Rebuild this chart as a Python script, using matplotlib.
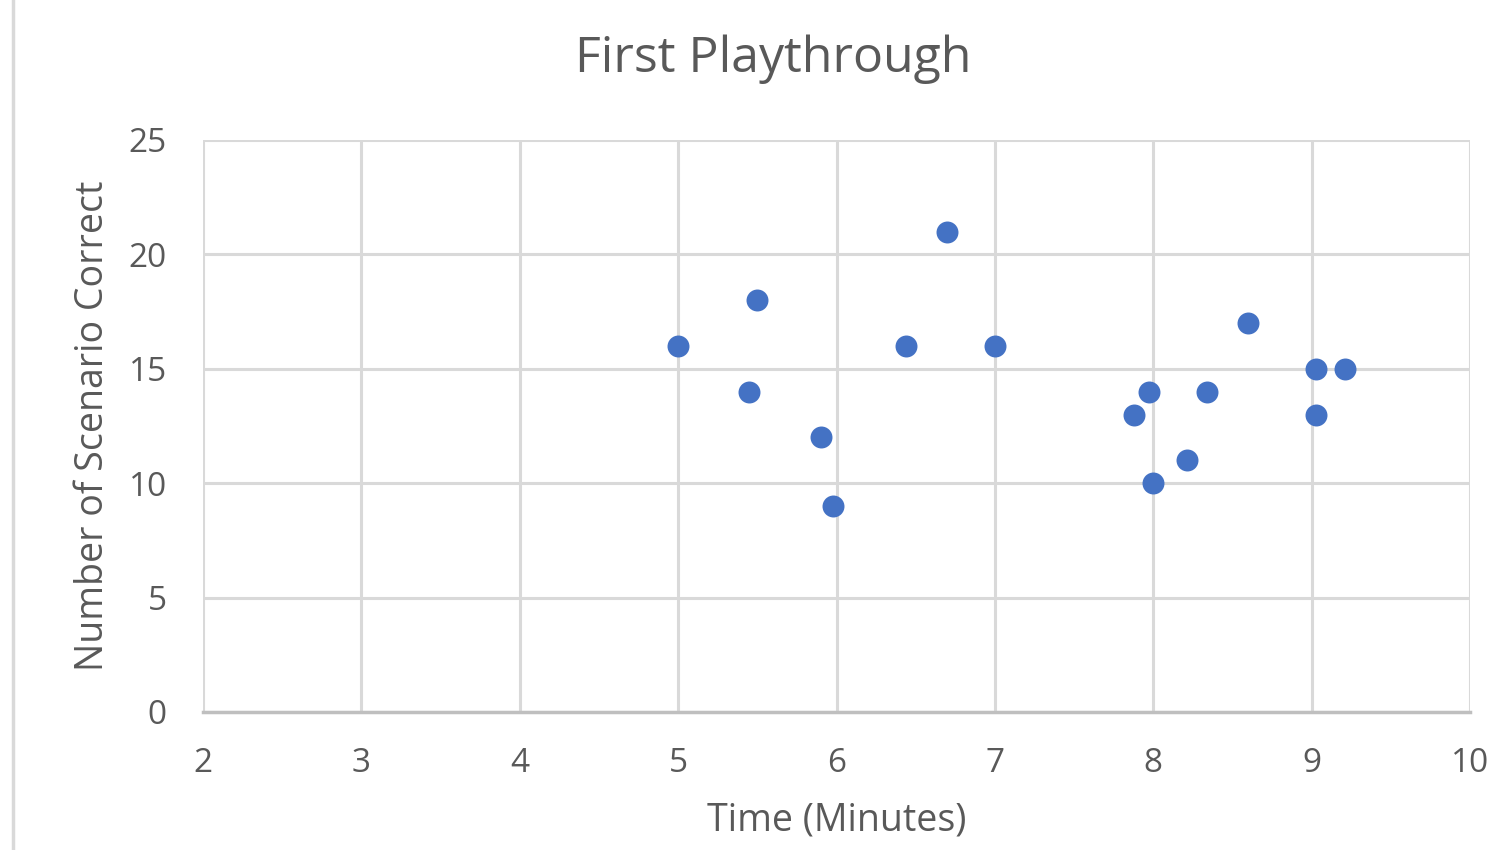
import matplotlib.pyplot as plt
from matplotlib.lines import Line2D

plt.rcParams['font.family'] = ['Open Sans', 'DejaVu Sans']

# Data
time_minutes = [5.0, 5.5, 5.45, 5.9, 5.98, 6.44, 6.7, 7.0,
                7.88, 7.97, 8.0, 8.21, 8.34, 8.6, 9.03, 9.21, 9.03]
num_correct = [16, 18, 14, 12, 9, 16, 21, 16,
               13, 14, 10, 11, 14, 17, 15, 15, 13]

x_ticks = [2, 3, 4, 5, 6, 7, 8, 9, 10]
y_ticks = [0, 5, 10, 15, 20, 25]

text_color = '#595959'
grid_color = '#D9D9D9'

fig = plt.figure(figsize=(14.94, 8.5), dpi=100)
ax = fig.add_axes([0.1359, 0.1624, 0.8481, 0.6729])

ax.scatter(time_minutes, num_correct, s=250, color='#4472C4', zorder=3, linewidths=0)

ax.set_xlim(2, 10)
ax.set_ylim(0, 25)
ax.set_xticks(x_ticks)
ax.set_yticks(y_ticks)
ax.grid(True, color=grid_color, linewidth=2.2)
ax.set_axisbelow(True)

for side in ['top', 'right', 'left']:
    ax.spines[side].set_visible(False)
ax.spines['bottom'].set_color('#BFBFBF')
ax.spines['bottom'].set_linewidth(2.5)
ax.spines['bottom'].set_zorder(2)

ax.tick_params(length=0, labelsize=24, colors=text_color)
ax.tick_params(axis='x', pad=25)
ax.tick_params(axis='y', pad=26)

# title sits over the middle of the whole chart, not the plot area
ax.set_title('First Playthrough', fontsize=36, color=text_color, pad=49, x=0.45)

ax.set_xlabel('Time (Minutes)', fontsize=27, color=text_color)
ax.xaxis.set_label_coords(0.5, -0.19)
ax.xaxis.label.set_va('center')
ax.set_ylabel('Number of Scenario Correct', fontsize=27, color=text_color)
ax.yaxis.set_label_coords(-0.0868, 0.5)
ax.yaxis.label.set_va('center')

# chart border on the left edge
fig.add_artist(Line2D([12.5 / 1494, 12.5 / 1494], [0, 1], color=grid_color, linewidth=2.5))

fig.savefig('out.png', dpi=100, facecolor='white')
